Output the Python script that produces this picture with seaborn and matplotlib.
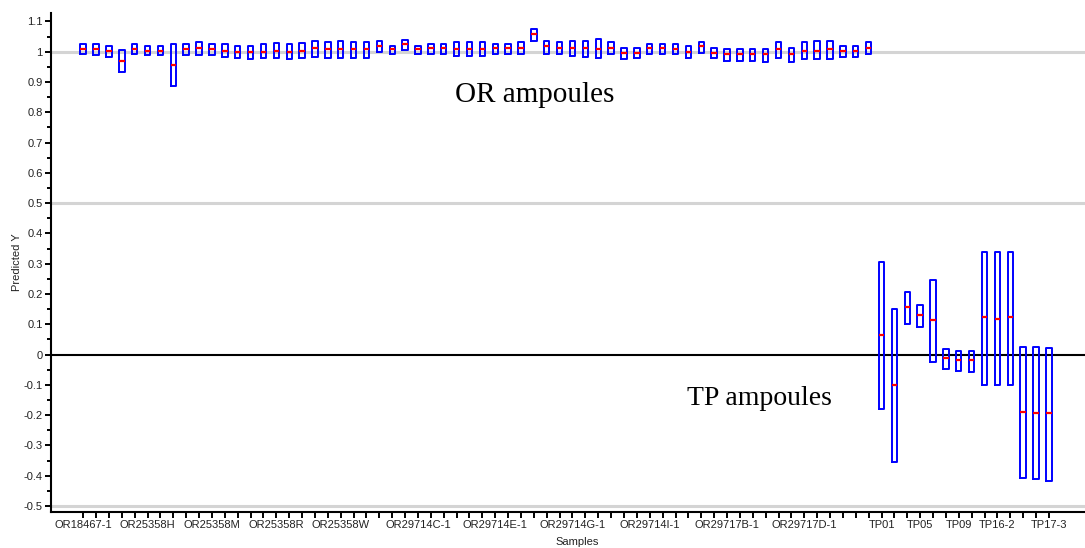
import numpy as np
import pandas as pd
import matplotlib
matplotlib.use("Agg")
import matplotlib.pyplot as plt
from matplotlib.ticker import MultipleLocator, FixedLocator, FuncFormatter
import seaborn as sns

# Prediction intervals (upper, lower) and predicted value for OR ampoules
or_high = [1.024, 1.024, 1.019, 1.006, 1.024, 1.019, 1.019, 1.026, 1.026, 1.032,
           1.024, 1.024, 1.019, 1.019, 1.024, 1.028, 1.024, 1.028, 1.036, 1.031,
           1.036, 1.031, 1.031, 1.036, 1.019, 1.039, 1.019, 1.026, 1.026, 1.031,
           1.031, 1.031, 1.026, 1.026, 1.031, 1.075, 1.036, 1.031, 1.036, 1.036,
           1.041, 1.031, 1.013, 1.011, 1.026, 1.026, 1.024, 1.019, 1.031, 1.013,
           1.009, 1.009, 1.009, 1.009, 1.031, 1.013, 1.031, 1.036, 1.036, 1.019,
           1.019, 1.031]
or_low = [0.991, 0.988, 0.982, 0.934, 0.991, 0.988, 0.988, 0.886, 0.988, 0.988,
          0.988, 0.982, 0.978, 0.975, 0.978, 0.978, 0.975, 0.978, 0.983, 0.978,
          0.981, 0.981, 0.978, 1.000, 0.992, 1.006, 0.992, 0.992, 0.992, 0.987,
          0.987, 0.987, 0.992, 0.992, 0.992, 1.035, 0.992, 0.992, 0.987, 0.983,
          0.978, 0.994, 0.975, 0.978, 0.994, 0.994, 0.991, 0.978, 0.997, 0.978,
          0.969, 0.969, 0.969, 0.965, 0.978, 0.965, 0.975, 0.975, 0.975, 0.983,
          0.983, 0.994]
or_mid = [1.009, 1.009, 1.004, 0.970, 1.009, 1.004, 1.004, 0.957, 1.009, 1.014,
          1.009, 1.004, 1.000, 1.000, 1.000, 1.004, 1.000, 1.004, 1.014, 1.009,
          1.010, 1.009, 1.009, 1.019, 1.009, 1.024, 1.009, 1.013, 1.013, 1.009,
          1.009, 1.009, 1.013, 1.013, 1.013, 1.057, 1.019, 1.013, 1.013, 1.013,
          1.009, 1.013, 0.997, 0.997, 1.013, 1.013, 1.009, 1.000, 1.019, 0.997,
          0.992, 0.992, 0.992, 0.992, 1.009, 0.992, 1.004, 1.004, 1.009, 1.004,
          1.004, 1.013]

# Same quantities for TP ampoules
tp_high = [0.307, 0.150, 0.207, 0.163, 0.246, 0.018, 0.013, 0.013, 0.338, 0.338,
           0.338, 0.026, 0.026, 0.023]
tp_low = [-0.179, -0.354, 0.101, 0.092, -0.026, -0.047, -0.053, -0.057, -0.100, -0.100,
          -0.100, -0.407, -0.410, -0.417]
tp_mid = [0.066, -0.100, 0.158, 0.132, 0.114, -0.013, -0.018, -0.018, 0.123, 0.119,
          0.123, -0.189, -0.193, -0.193]

# Sample names shown along the x axis (by sample position)
label_positions = [0, 5, 10, 15, 20, 26, 32, 38, 44, 50, 56, 62, 65, 68, 71, 75]
label_names = ["OR18467-1", "OR25358H", "OR25358M", "OR25358R", "OR25358W",
               "OR29714C-1", "OR29714E-1", "OR29714G-1", "OR29714I-1",
               "OR29717B-1", "OR29717D-1", "TP01", "TP05", "TP09", "TP16-2",
               "TP17-3"]

high = or_high + tp_high
low = or_low + tp_low
mid = or_mid + tp_mid
n = len(mid)

# Long-form table: five values per sample so that the quartiles equal
# the interval ends and the median equals the predicted value
rows = []
for i in range(n):
    for v in (low[i], low[i], mid[i], high[i], high[i]):
        rows.append({"sample": i, "value": v})
df = pd.DataFrame(rows)

sns.set_style("ticks")
plt.rcParams["font.family"] = ["Liberation Sans", "DejaVu Sans"]

fig = plt.figure(figsize=(10.85, 5.48), dpi=100)
ax = fig.add_axes([51 / 1085, 36.3 / 548, 1052 / 1085, 498.4 / 548])

# Reference lines
for yv in (1.0, 0.5, -0.5):
    ax.axhline(yv, color="#d4d4d4", lw=2.2, zorder=0.5)
ax.axhline(0.0, color="black", lw=1.5, zorder=0.6)

sns.boxplot(
    data=df, x="sample", y="value", order=list(range(n)),
    fill=False, color="#0000ff", width=0.42, linewidth=1.4,
    whis=0, showfliers=False, showcaps=False,
    medianprops={"color": "#ff0000", "linewidth": 1.6},
    whiskerprops={"linewidth": 0},
    ax=ax,
)

ax.set_xlim(-2.5, 79.2)
ax.set_ylim(-0.519, 1.127)

ax.xaxis.set_major_locator(FixedLocator(list(range(n))))
tick_text = [""] * n
for p, name in zip(label_positions, label_names):
    tick_text[p] = name
ax.set_xticklabels(tick_text)

ax.yaxis.set_major_locator(MultipleLocator(0.1))
ax.yaxis.set_minor_locator(MultipleLocator(0.05))
ax.yaxis.set_major_formatter(FuncFormatter(lambda v, _: f"{round(v, 2):g}"))

ax.tick_params(axis="both", which="major", direction="out", length=4, width=1.4,
               color="black", labelsize=8, labelcolor="#222222", pad=2)
ax.tick_params(axis="y", which="minor", direction="out", length=3, width=1.4,
               color="black")

for side in ("top", "right"):
    ax.spines[side].set_visible(False)
for side in ("left", "bottom"):
    ax.spines[side].set_linewidth(1.5)
    ax.spines[side].set_color("black")

ax.set_ylabel("Predicted Y", fontsize=8, color="#222222", labelpad=1)
ax.set_xlabel("Samples", fontsize=8, color="#222222", labelpad=5)

ax.text(35.1, 0.834, "OR ampoules", family="Liberation Serif", fontsize=21,
        ha="center", va="baseline", color="black")
ax.text(52.5, -0.166, "TP ampoules", family="Liberation Serif", fontsize=20,
        ha="center", va="baseline", color="black")

fig.savefig("out.png", dpi=100)
